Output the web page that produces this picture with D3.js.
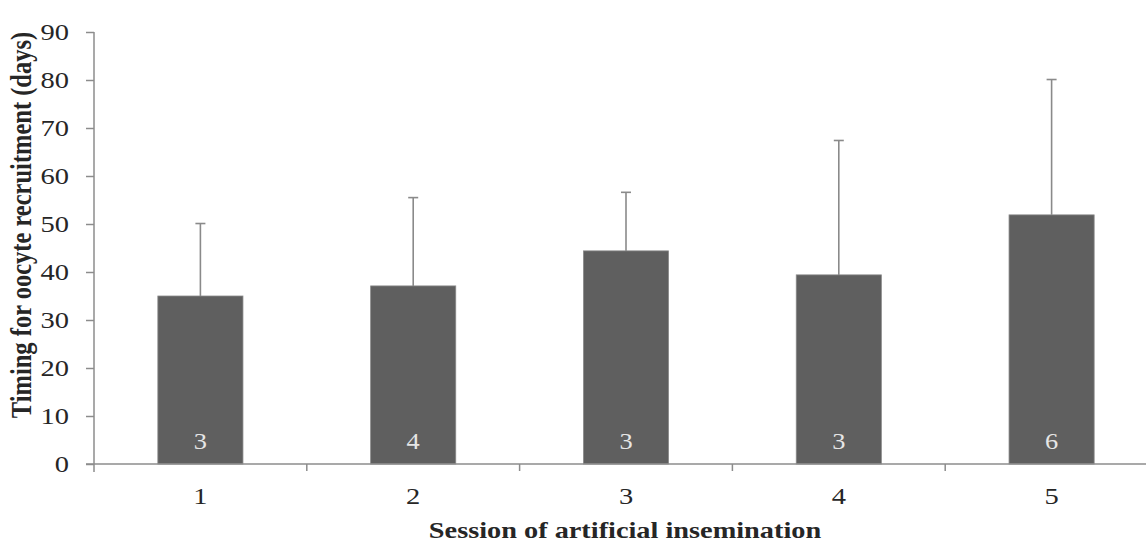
<!DOCTYPE html>
<html><head><meta charset="utf-8">
<script src="https://cdn.jsdelivr.net/npm/d3@7"></script>
<style>body{margin:0;background:#fff}svg{display:block}</style>
</head><body>
<svg id="c" width="1146" height="548"></svg>
<script>
const categories = ["1","2","3","4","5"];
const means = [35.0, 37.1, 44.4, 39.4, 51.9];
const upper = [50.1, 55.5, 56.6, 67.4, 80.1];
const counts = ["3","4","3","3","6"];
const yTicks = [0,10,20,30,40,50,60,70,80,90];

const svg = d3.select("#c");
const font = "'Liberation Serif','Times New Roman',serif";
const axisColor = "#8c8c8c";
const textColor = "#262626";
const x = d3.scaleBand().domain(categories).range([94, 1158]).paddingInner(0.6).paddingOuter(0.3);
const y = d3.scaleLinear().domain([0,90]).range([464, 32]);

// bars
svg.selectAll("rect.bar").data(means).join("rect")
  .attr("x",(d,i)=>x(categories[i])).attr("width",x.bandwidth())
  .attr("y",d=>y(d)).attr("height",d=>y(0)-y(d))
  .attr("fill","#5f5f5f").attr("stroke","#8a8a8a").attr("stroke-width",0.8);

// error bars
const eb = svg.append("g").attr("stroke","#8a8a8a").attr("stroke-width",1.6);
categories.forEach((c,i)=>{
  const cx = x(c)+x.bandwidth()/2;
  eb.append("line").attr("x1",cx).attr("x2",cx).attr("y1",y(means[i])).attr("y2",y(upper[i]));
  eb.append("line").attr("x1",cx-5).attr("x2",cx+5).attr("y1",y(upper[i])).attr("y2",y(upper[i]));
});

// count labels
svg.selectAll("text.cnt").data(counts).join("text")
  .attr("transform",(d,i)=>`translate(${x(categories[i])+x.bandwidth()/2},449) scale(1.1,1)`)
  .attr("text-anchor","middle").attr("font-family",font).attr("font-size",24)
  .attr("fill","#e6e6e6").text(d=>d);

// y axis
const ya = svg.append("g").attr("transform","translate(94,0)")
  .call(d3.axisLeft(y).tickValues(yTicks).tickSize(8).tickFormat("").tickSizeOuter(0));
ya.select(".domain").attr("stroke",axisColor).attr("stroke-width",1.5).attr("d","M0,32V472");
ya.selectAll(".tick line").attr("stroke",axisColor).attr("stroke-width",1.5);
svg.selectAll("text.yl").data(yTicks).join("text")
  .attr("transform",d=>`translate(69,${y(d)+8}) scale(1.24,1)`)
  .attr("text-anchor","end").attr("font-family",font).attr("font-size",23).attr("fill",textColor)
  .text(d=>d);

// x axis
const xa = svg.append("g").attr("transform","translate(0,464)");
xa.append("line").attr("x1",86).attr("x2",1158).attr("y1",0).attr("y2",0)
  .attr("stroke",axisColor).attr("stroke-width",1.5);
const step = x.step();
const boundaries = d3.range(1, categories.length+1).map(i=>x(categories[0]) - (step - x.bandwidth())/2 + i*step);
xa.selectAll("line.tk").data(boundaries).join("line")
  .attr("x1",d=>d).attr("x2",d=>d).attr("y1",0).attr("y2",7)
  .attr("stroke",axisColor).attr("stroke-width",1.5);
xa.selectAll("text.xl").data(categories).join("text")
  .attr("transform",d=>`translate(${x(d)+x.bandwidth()/2},40) scale(1.24,1)`)
  .attr("text-anchor","middle").attr("font-family",font).attr("font-size",23).attr("fill",textColor)
  .text(d=>d);

// titles
svg.append("text").attr("transform","translate(625,538) scale(1.18,1)").attr("text-anchor","middle")
  .attr("font-family",font).attr("font-size",24).attr("font-weight","bold").attr("fill",textColor)
  .text("Session of artificial insemination");
svg.append("text").attr("transform","translate(31,225) rotate(-90) scale(1,1.2)").attr("text-anchor","middle")
  .attr("font-family",font).attr("font-size",24.5).attr("font-weight","bold").attr("fill",textColor)
  .text("Timing for oocyte recruitment (days)");
</script>
</body></html>
